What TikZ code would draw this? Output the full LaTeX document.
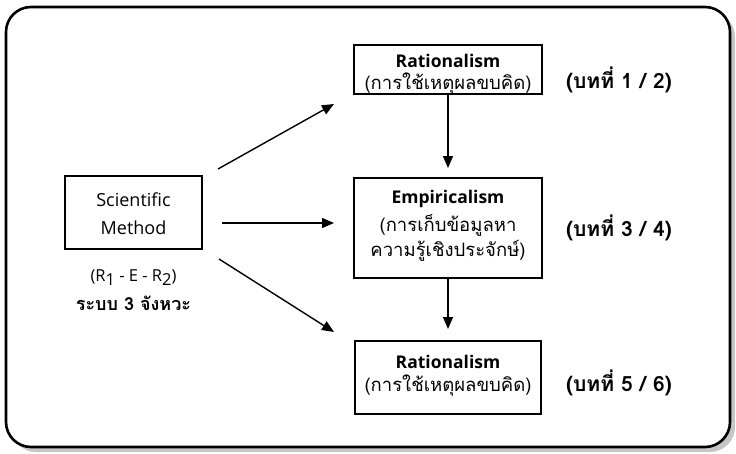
\documentclass[tikz,border=0pt]{standalone}
\usepackage{fontspec}
\setmainfont{Open Sans}
\newfontfamily\thai[Script=Thai]{Loma}
\usetikzlibrary{arrows.meta,calc}
\begin{document}
\begin{tikzpicture}[x=1pt,y=-1pt,
  box/.style={draw=black,line width=1.6pt,inner sep=0pt},
  en/.style={inner sep=0pt,font=\bfseries\fontsize{17.5}{20}\selectfont},
  th/.style={inner sep=0pt,font=\thai\fontsize{18.5}{22}\selectfont},
  sci/.style={inner sep=0pt,font=\fontsize{18}{20}\selectfont},
  arr/.style={line width=1.4pt,-{Triangle[length=12pt,width=10pt]}},
  lbl/.style={font=\thai\bfseries\fontsize{21}{24}\selectfont,inner sep=0pt}]
\useasboundingbox (0,0) rectangle (736,453);
% shadow and frame
\fill[gray!45,rounded corners=25pt] (11,12) rectangle (735,452);
\draw[line width=2.6pt,fill=white,rounded corners=25pt] (6,7) rectangle (730,447);
% boxes
\node[box,minimum width=188pt,minimum height=49pt] (r1) at (448,69.5) {};
\node[box,minimum width=188pt,minimum height=100pt] (emp) at (448,228) {};
\node[box,minimum width=186pt,minimum height=73pt] (r2) at (448,377.5) {};
\node[box,minimum width=137pt,minimum height=73pt] (sm) at (133.5,212.5) {};
% box texts
\node[en] (r1a) at (448,61) {Rationalism};
\node[th] (r1b) at (448,83.5) {(การใช้เหตุผลขบคิด)};
\node[en] (ema) at (448,199) {Empiricalism};
\node[th] (emb) at (448,225) {(การเก็บข้อมูลหา};
\node[th] (emc) at (448,251) {ความรู้เชิงประจักษ์)};
\node[en] (r2a) at (448,362) {Rationalism};
\node[th] (r2b) at (448,386) {(การใช้เหตุผลขบคิด)};
\node[sci] (sma) at (133.5,200) {Scientific};
\node[sci] (smb) at (133.5,228) {Method};
% texts
\node[inner sep=0pt,font=\fontsize{16.5}{18}\selectfont] (rer) at (133.5,278)
  {(R\raisebox{-0.45ex}{1} - E - R\raisebox{-0.45ex}{2})};
\node[inner sep=0pt,font=\thai\bfseries\fontsize{18}{20}\selectfont] (jang) at (133.5,303) {ระบบ 3 จังหวะ};
\node[lbl] (l1) at (619,80) {(บทที่ 1 / 2)};
\node[lbl] (l2) at (619,228) {(บทที่ 3 / 4)};
\node[lbl] (l3) at (619,383) {(บทที่ 5 / 6)};
% arrow coordinates
\coordinate (s1) at (218,169);
\coordinate (t1) at (334,104);
\coordinate (s2) at (222,223);
\coordinate (t2) at (334,223);
\coordinate (s3) at (219,259);
\coordinate (t3) at (334,332);
\coordinate (v1) at (448,168);
\coordinate (v2) at (448,329);
\draw[arr] (s1) -- (t1);
\draw[arr] (s2) -- (t2);
\draw[arr] (s3) -- (t3);
\draw[arr] (r1.south) -- (v1);
\draw[arr] (emp.south) -- (v2);
\end{tikzpicture}
\end{document}
